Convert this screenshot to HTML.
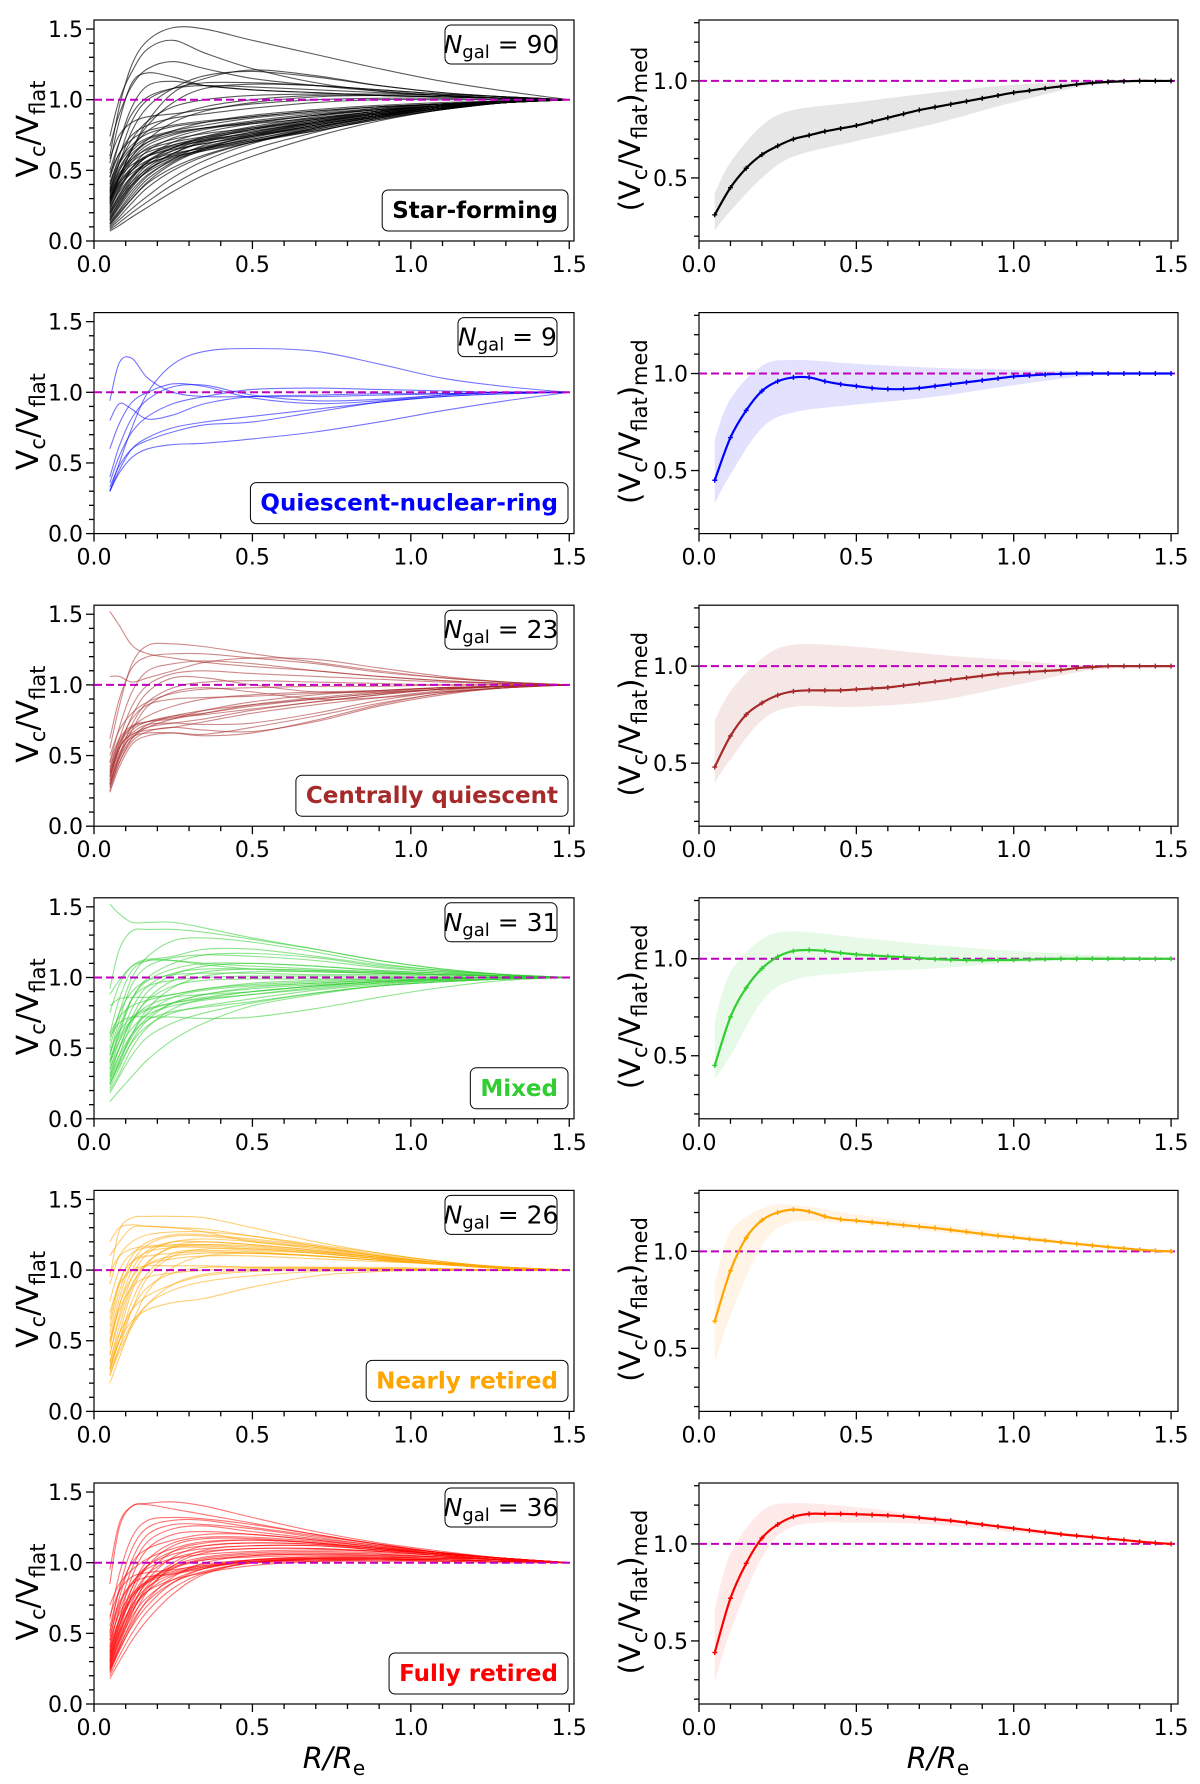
<!DOCTYPE html>
<html><head><meta charset="utf-8">
<style>
html,body{margin:0;padding:0;background:#fff;}
svg text{font-family:"DejaVu Sans","Liberation Sans",sans-serif;}
</style></head>
<body>
<svg id="fig" xmlns="http://www.w3.org/2000/svg" width="1200" height="1779" viewBox="0 0 1200 1779"></svg>
<script>
// Shared radius grids
const curveR = [0.05,0.08,0.12,0.17,0.25,0.35,0.5,0.7,0.9,1.1,1.3,1.5];
const medR = [0.05,0.10,0.15,0.20,0.25,0.30,0.35,0.40,0.45,0.50,0.55,0.60,0.65,0.70,0.75,0.80,0.85,0.90,0.95,1.00,1.05,1.10,1.15,1.20,1.25,1.30,1.35,1.40,1.45,1.50];
const bandR = [0.05,0.1,0.2,0.3,0.5,0.75,1.0,1.25,1.5];
const xTicks = [0.0,0.5,1.0,1.5];
const xTickLabels = ["0.0","0.5","1.0","1.5"];
const leftYTicks = [0.0,0.5,1.0,1.5];
const leftYTickLabels = ["0.0","0.5","1.0","1.5"];
const rightYTicks = [0.5,1.0];
const rightYTickLabels = ["0.5","1.0"];
const classNames = ["Star-forming","Quiescent-nuclear-ring","Centrally quiescent","Mixed","Nearly retired","Fully retired"];
const classColors = ["#000000","#0000ff","#a52a2a","#32cd32","#ffa500","#ff0000"];
const bandColors = ["#c8c8c8","#a0a0ff","#e0b0b0","#b0ecb0","#ffdcaa","#ffb8b8"];
const nGal = [90,9,23,31,26,36];

const curvesSF = [
[0.60,0.95,1.25,1.42,1.51,1.50,1.42,1.32,1.22,1.13,1.06,1],
[0.74,1.0,1.2,1.36,1.42,1.33,1.22,1.12,1.06,1.03,1.01,1],
[0.67,0.9,1.1,1.22,1.27,1.22,1.15,1.10,1.06,1.03,1.01,1],
[0.55,0.85,1.12,1.19,1.16,1.10,1.07,1.05,1.03,1.02,1.01,1],
[0.35,0.55,0.78,0.95,1.08,1.17,1.20,1.16,1.10,1.05,1.02,1],
[0.30,0.45,0.65,0.85,1.05,1.15,1.21,1.17,1.10,1.05,1.02,1],
[0.45,0.7,0.95,1.10,1.13,1.10,1.07,1.05,1.03,1.02,1.01,1],
[0.40,0.6,0.85,1.0,1.08,1.12,1.12,1.10,1.07,1.04,1.02,1],
[0.28,0.45,0.65,0.82,0.98,1.08,1.11,1.10,1.07,1.04,1.02,1],
[0.5,0.7,0.9,1.02,1.08,1.10,1.09,1.07,1.05,1.03,1.01,1],
[0.38,0.55,0.72,0.85,0.95,1.0,1.03,1.04,1.04,1.03,1.01,1],
[0.33,0.5,0.66,0.78,0.88,0.95,1.0,1.03,1.03,1.02,1.01,1],
[0.30,0.45,0.6,0.72,0.84,0.92,0.98,1.02,1.03,1.02,1.01,1],
[0.58,0.75,0.84,0.88,0.9,0.93,0.97,1.0,1.01,1.01,1.0,1],
[0.45,0.62,0.75,0.82,0.87,0.9,0.94,0.98,1.0,1.0,1.0,1],
[0.25,0.38,0.5,0.6,0.7,0.77,0.83,0.89,0.94,0.97,0.99,1],
[0.20,0.32,0.45,0.56,0.66,0.74,0.81,0.88,0.93,0.97,0.99,1],
[0.15,0.25,0.38,0.5,0.62,0.71,0.79,0.86,0.92,0.96,0.99,1],
[0.12,0.2,0.3,0.42,0.55,0.65,0.75,0.84,0.91,0.96,0.99,1],
[0.07,0.11,0.17,0.24,0.35,0.47,0.6,0.74,0.85,0.93,0.98,1],
[0.09,0.15,0.23,0.32,0.45,0.57,0.69,0.8,0.89,0.95,0.99,1],
[0.30,0.42,0.52,0.6,0.66,0.71,0.77,0.84,0.9,0.95,0.98,1],
[0.35,0.48,0.58,0.65,0.7,0.74,0.79,0.85,0.91,0.95,0.98,1],
[0.18,0.3,0.44,0.56,0.64,0.69,0.74,0.81,0.88,0.94,0.98,1],
[0.22,0.36,0.5,0.6,0.68,0.73,0.78,0.84,0.9,0.95,0.98,1],
[0.28,0.44,0.58,0.68,0.75,0.8,0.85,0.9,0.94,0.97,0.99,1],
[0.40,0.55,0.66,0.73,0.78,0.82,0.87,0.91,0.95,0.97,0.99,1],
[0.48,0.62,0.72,0.78,0.82,0.85,0.88,0.92,0.95,0.97,0.99,1],
[0.14,0.24,0.36,0.47,0.57,0.64,0.71,0.79,0.87,0.93,0.98,1],
[0.10,0.17,0.27,0.38,0.5,0.6,0.7,0.8,0.88,0.94,0.98,1],
[0.26,0.4,0.52,0.61,0.67,0.71,0.75,0.82,0.89,0.94,0.98,1],
[0.32,0.46,0.56,0.63,0.68,0.72,0.76,0.83,0.89,0.94,0.98,1],
[0.17,0.27,0.4,0.52,0.62,0.7,0.77,0.85,0.91,0.96,0.99,1],
[0.21,0.33,0.46,0.57,0.66,0.73,0.8,0.87,0.92,0.96,0.99,1],
[0.13,0.22,0.34,0.46,0.58,0.68,0.76,0.84,0.9,0.95,0.99,1],
[0.24,0.35,0.46,0.54,0.61,0.66,0.72,0.8,0.88,0.94,0.98,1],
[0.36,0.5,0.62,0.7,0.76,0.8,0.84,0.89,0.93,0.96,0.99,1],
[0.29,0.41,0.5,0.57,0.62,0.66,0.72,0.81,0.88,0.94,0.98,1],
[0.19,0.29,0.4,0.49,0.58,0.65,0.73,0.82,0.89,0.95,0.98,1],
[0.11,0.19,0.3,0.41,0.52,0.61,0.7,0.79,0.87,0.94,0.98,1],
[0.42,0.57,0.68,0.76,0.81,0.84,0.88,0.92,0.95,0.97,0.99,1],
[0.27,0.39,0.48,0.55,0.6,0.64,0.7,0.78,0.86,0.93,0.98,1],
[0.16,0.28,0.42,0.54,0.64,0.72,0.79,0.86,0.92,0.96,0.99,1],
[0.23,0.37,0.52,0.64,0.73,0.79,0.84,0.89,0.93,0.96,0.99,1],
[0.34,0.45,0.54,0.6,0.65,0.69,0.75,0.83,0.9,0.95,0.98,1],
[0.08,0.13,0.2,0.28,0.4,0.52,0.65,0.77,0.87,0.94,0.98,1],
[0.31,0.47,0.6,0.7,0.78,0.84,0.89,0.93,0.96,0.98,0.99,1],
[0.20,0.31,0.42,0.51,0.59,0.65,0.71,0.78,0.86,0.93,0.98,1],
[0.12,0.21,0.32,0.44,0.56,0.66,0.74,0.82,0.89,0.95,0.98,1],
[0.37,0.52,0.64,0.72,0.77,0.8,0.83,0.87,0.92,0.96,0.99,1],
[0.26,0.42,0.56,0.66,0.72,0.76,0.8,0.86,0.91,0.95,0.98,1],
[0.15,0.26,0.39,0.5,0.6,0.67,0.74,0.82,0.89,0.95,0.98,1]
];
const curvesQNR = [
[0.94,1.21,1.24,1.1,1.0,0.97,0.97,0.97,0.98,0.99,1.0,1],
[0.30,0.5,0.75,1.0,1.2,1.29,1.31,1.29,1.2,1.1,1.04,1],
[0.80,0.92,0.88,0.81,0.84,0.92,0.97,0.98,0.99,0.99,1.0,1],
[0.60,0.78,0.93,1.0,1.06,1.04,0.96,0.92,0.94,0.98,1.0,1],
[0.40,0.62,0.82,0.95,1.04,1.05,0.98,0.94,0.95,0.98,1.0,1],
[0.36,0.55,0.72,0.83,0.92,0.97,1.02,1.03,1.02,1.01,1.0,1],
[0.30,0.45,0.6,0.68,0.75,0.79,0.83,0.88,0.93,0.97,0.99,1],
[0.33,0.48,0.6,0.66,0.72,0.77,0.79,0.86,0.93,0.97,0.99,1],
[0.30,0.43,0.54,0.6,0.63,0.64,0.67,0.72,0.79,0.87,0.94,1]
];
const curvesCQ = [
[1.52,1.42,1.28,1.22,1.19,1.16,1.13,1.10,1.06,1.03,1.01,1],
[0.55,0.85,1.15,1.28,1.29,1.27,1.22,1.16,1.1,1.05,1.02,1],
[0.62,0.9,1.12,1.2,1.22,1.22,1.19,1.15,1.09,1.05,1.02,1],
[1.06,1.06,1.02,1.05,1.1,1.16,1.19,1.18,1.12,1.06,1.02,1],
[0.45,0.7,0.95,1.1,1.15,1.17,1.15,1.1,1.06,1.03,1.01,1],
[0.40,0.62,0.85,1.0,1.08,1.1,1.08,1.06,1.04,1.02,1.01,1],
[0.35,0.55,0.78,0.95,1.05,1.05,1.0,0.95,0.95,0.97,0.99,1],
[0.30,0.5,0.72,0.88,0.98,1.02,1.03,1.02,1.01,1.0,1.0,1],
[0.28,0.48,0.68,0.85,0.95,0.98,0.95,0.9,0.91,0.95,0.98,1],
[0.38,0.58,0.7,0.78,0.85,0.9,0.93,0.95,0.96,0.98,0.99,1],
[0.33,0.55,0.68,0.74,0.78,0.8,0.85,0.9,0.94,0.97,0.99,1],
[0.25,0.45,0.62,0.72,0.78,0.82,0.86,0.9,0.94,0.97,0.99,1],
[0.42,0.6,0.7,0.74,0.77,0.79,0.83,0.88,0.93,0.97,0.99,1],
[0.30,0.5,0.64,0.7,0.73,0.76,0.82,0.88,0.93,0.97,0.99,1],
[0.35,0.55,0.66,0.72,0.73,0.72,0.73,0.8,0.89,0.95,0.98,1],
[0.27,0.45,0.6,0.67,0.7,0.68,0.67,0.74,0.85,0.93,0.98,1],
[0.32,0.52,0.63,0.66,0.66,0.64,0.66,0.75,0.86,0.94,0.98,1],
[0.24,0.42,0.58,0.64,0.66,0.65,0.7,0.78,0.87,0.94,0.98,1],
[0.38,0.56,0.65,0.68,0.7,0.74,0.8,0.86,0.91,0.96,0.99,1],
[0.45,0.62,0.71,0.74,0.76,0.8,0.86,0.91,0.95,0.98,0.99,1],
[0.29,0.48,0.62,0.7,0.76,0.82,0.88,0.93,0.96,0.98,0.99,1],
[0.50,0.68,0.8,0.88,0.94,0.97,0.98,0.99,0.99,1.0,1.0,1],
[0.36,0.58,0.76,0.86,0.9,0.91,0.92,0.94,0.96,0.98,0.99,1]
];
const curvesMixed = [
[1.52,1.45,1.39,1.39,1.39,1.35,1.28,1.2,1.12,1.06,1.02,1],
[0.92,1.2,1.33,1.34,1.34,1.32,1.27,1.2,1.12,1.06,1.02,1],
[0.5,0.75,1.0,1.15,1.26,1.28,1.25,1.18,1.1,1.05,1.02,1],
[0.6,0.85,1.05,1.12,1.15,1.2,1.2,1.15,1.09,1.05,1.02,1],
[0.45,0.7,0.95,1.08,1.14,1.16,1.15,1.12,1.07,1.04,1.02,1],
[0.38,0.6,0.85,1.0,1.1,1.16,1.17,1.14,1.08,1.04,1.01,1],
[0.88,0.98,1.08,1.12,1.12,1.1,1.08,1.06,1.04,1.02,1.01,1],
[0.75,0.95,1.08,1.13,1.12,1.09,1.06,1.04,1.03,1.02,1.01,1],
[0.40,0.62,0.85,0.98,1.06,1.1,1.1,1.08,1.05,1.03,1.01,1],
[0.30,0.5,0.72,0.9,1.02,1.08,1.1,1.08,1.05,1.03,1.01,1],
[0.35,0.55,0.78,0.94,1.03,1.06,1.06,1.05,1.04,1.02,1.01,1],
[0.28,0.45,0.68,0.85,0.98,1.04,1.06,1.05,1.03,1.02,1.01,1],
[0.25,0.4,0.6,0.78,0.93,1.01,1.04,1.04,1.03,1.02,1.01,1],
[0.55,0.75,0.9,0.98,1.02,1.03,1.03,1.02,1.02,1.01,1.0,1],
[0.45,0.65,0.85,0.94,0.98,1.0,1.01,1.01,1.01,1.0,1.0,1],
[0.32,0.5,0.7,0.84,0.94,0.98,0.99,0.99,1.0,1.0,1.0,1],
[0.8,0.85,0.86,0.86,0.88,0.92,0.96,0.98,0.99,1.0,1.0,1],
[0.6,0.72,0.8,0.84,0.88,0.92,0.95,0.97,0.99,1.0,1.0,1],
[0.27,0.42,0.6,0.75,0.86,0.91,0.94,0.96,0.98,0.99,1.0,1],
[0.22,0.36,0.55,0.7,0.82,0.88,0.92,0.95,0.97,0.99,1.0,1],
[0.40,0.55,0.7,0.8,0.86,0.88,0.9,0.94,0.97,0.99,1.0,1],
[0.20,0.32,0.5,0.65,0.78,0.85,0.9,0.94,0.97,0.99,1.0,1],
[0.35,0.5,0.64,0.74,0.8,0.84,0.88,0.93,0.96,0.98,0.99,1],
[0.25,0.38,0.54,0.66,0.75,0.8,0.85,0.91,0.95,0.98,0.99,1],
[0.48,0.62,0.72,0.78,0.82,0.85,0.88,0.92,0.96,0.98,0.99,1],
[0.30,0.45,0.6,0.7,0.76,0.79,0.83,0.89,0.94,0.97,0.99,1],
[0.58,0.68,0.72,0.72,0.72,0.71,0.72,0.78,0.86,0.93,0.98,1],
[0.18,0.3,0.45,0.58,0.68,0.75,0.82,0.89,0.94,0.97,0.99,1],
[0.12,0.2,0.3,0.42,0.56,0.68,0.8,0.88,0.94,0.97,0.99,1],
[0.42,0.58,0.7,0.77,0.82,0.86,0.9,0.94,0.97,0.99,1.0,1],
[0.24,0.4,0.58,0.72,0.82,0.88,0.93,0.96,0.98,0.99,1.0,1]
];
const curvesNR = [
[0.95,1.28,1.37,1.38,1.38,1.37,1.3,1.2,1.12,1.06,1.02,1],
[1.1,1.2,1.3,1.31,1.3,1.27,1.2,1.16,1.1,1.05,1.02,1],
[1.2,1.3,1.32,1.31,1.3,1.29,1.24,1.17,1.1,1.05,1.02,1],
[0.9,1.1,1.2,1.25,1.27,1.27,1.24,1.18,1.12,1.06,1.02,1],
[0.6,0.9,1.1,1.2,1.25,1.25,1.22,1.17,1.11,1.06,1.02,1],
[0.5,0.8,1.05,1.18,1.24,1.24,1.21,1.16,1.1,1.05,1.02,1],
[0.4,0.68,0.95,1.12,1.2,1.22,1.2,1.15,1.1,1.05,1.02,1],
[0.45,0.75,1.0,1.14,1.2,1.2,1.18,1.14,1.09,1.05,1.02,1],
[0.3,0.55,0.85,1.05,1.17,1.2,1.18,1.14,1.09,1.05,1.02,1],
[0.35,0.6,0.88,1.06,1.16,1.18,1.17,1.13,1.09,1.05,1.02,1],
[0.98,1.1,1.15,1.17,1.18,1.18,1.16,1.13,1.09,1.05,1.02,1],
[0.78,1.0,1.12,1.16,1.17,1.17,1.15,1.12,1.08,1.05,1.02,1],
[0.55,0.85,1.05,1.13,1.16,1.16,1.14,1.12,1.08,1.04,1.02,1],
[0.25,0.45,0.72,0.95,1.1,1.15,1.15,1.12,1.08,1.04,1.02,1],
[0.30,0.5,0.78,0.98,1.12,1.14,1.13,1.1,1.07,1.04,1.01,1],
[0.65,0.92,1.06,1.1,1.12,1.13,1.12,1.1,1.07,1.04,1.01,1],
[0.4,0.65,0.9,1.04,1.1,1.12,1.12,1.1,1.07,1.04,1.01,1],
[0.2,0.38,0.62,0.85,1.02,1.1,1.12,1.1,1.07,1.04,1.01,1],
[0.48,0.75,0.95,1.04,1.08,1.1,1.1,1.08,1.06,1.04,1.01,1],
[0.7,0.9,1.0,1.03,1.03,1.03,1.02,1.02,1.02,1.01,1.0,1],
[0.3,0.5,0.72,0.88,0.98,1.02,1.02,1.02,1.01,1.01,1.0,1],
[0.35,0.55,0.72,0.82,0.9,0.96,0.99,1.0,1.0,1.0,1.0,1],
[0.28,0.45,0.62,0.76,0.86,0.92,0.96,0.99,1.0,1.0,1.0,1],
[0.33,0.5,0.64,0.72,0.77,0.8,0.88,0.96,0.99,1.0,1.0,1],
[0.26,0.42,0.6,0.76,0.9,0.97,1.0,1.01,1.01,1.0,1.0,1],
[0.5,0.72,0.88,0.95,0.98,1.0,1.01,1.01,1.01,1.0,1.0,1]
];
const curvesFR = [
[0.95,1.28,1.4,1.42,1.43,1.4,1.32,1.22,1.14,1.08,1.03,1],
[0.85,1.25,1.4,1.41,1.38,1.34,1.28,1.2,1.13,1.07,1.03,1],
[0.6,0.92,1.18,1.3,1.32,1.31,1.27,1.2,1.13,1.07,1.03,1],
[0.5,0.82,1.1,1.25,1.3,1.3,1.25,1.19,1.13,1.07,1.03,1],
[0.45,0.75,1.02,1.2,1.27,1.27,1.24,1.18,1.12,1.07,1.03,1],
[0.40,0.68,0.96,1.15,1.24,1.26,1.22,1.17,1.12,1.07,1.03,1],
[0.35,0.6,0.9,1.1,1.2,1.22,1.2,1.16,1.11,1.07,1.03,1],
[0.55,0.8,1.0,1.1,1.16,1.2,1.2,1.16,1.11,1.06,1.03,1],
[0.32,0.55,0.82,1.02,1.14,1.18,1.18,1.15,1.11,1.06,1.03,1],
[0.30,0.52,0.78,0.98,1.12,1.17,1.17,1.14,1.1,1.06,1.03,1],
[0.7,0.85,0.95,1.03,1.1,1.15,1.16,1.14,1.1,1.06,1.03,1],
[0.28,0.48,0.72,0.92,1.08,1.14,1.16,1.14,1.1,1.06,1.03,1],
[0.38,0.6,0.82,0.98,1.08,1.12,1.14,1.13,1.1,1.06,1.03,1],
[0.26,0.45,0.68,0.88,1.04,1.12,1.14,1.13,1.09,1.06,1.03,1],
[0.42,0.66,0.85,0.98,1.06,1.1,1.12,1.12,1.09,1.06,1.03,1],
[0.25,0.42,0.64,0.84,1.0,1.09,1.12,1.12,1.09,1.06,1.03,1],
[0.33,0.55,0.76,0.92,1.03,1.08,1.1,1.1,1.08,1.05,1.02,1],
[0.24,0.4,0.6,0.8,0.98,1.07,1.1,1.1,1.08,1.05,1.02,1],
[0.48,0.7,0.86,0.96,1.03,1.06,1.08,1.09,1.08,1.05,1.02,1],
[0.3,0.5,0.7,0.86,0.98,1.04,1.07,1.08,1.07,1.05,1.02,1],
[0.27,0.45,0.65,0.82,0.96,1.03,1.06,1.07,1.06,1.04,1.02,1],
[0.22,0.38,0.56,0.74,0.9,1.0,1.05,1.06,1.06,1.04,1.02,1],
[0.36,0.56,0.74,0.87,0.96,1.02,1.04,1.05,1.05,1.04,1.02,1],
[0.23,0.38,0.55,0.7,0.86,0.96,1.02,1.04,1.04,1.03,1.02,1],
[0.20,0.34,0.5,0.66,0.82,0.93,1.0,1.03,1.04,1.03,1.02,1],
[0.4,0.6,0.76,0.86,0.93,0.98,1.02,1.03,1.03,1.02,1.01,1],
[0.29,0.47,0.66,0.8,0.91,0.97,1.01,1.02,1.02,1.02,1.01,1],
[0.18,0.3,0.45,0.6,0.78,0.92,1.0,1.02,1.02,1.02,1.01,1],
[0.52,0.72,0.85,0.9,0.92,0.96,1.01,1.03,1.03,1.02,1.01,1],
[0.31,0.5,0.68,0.8,0.88,0.93,0.98,1.01,1.02,1.02,1.01,1],
[0.62,0.8,0.9,0.93,0.95,0.98,1.01,1.02,1.02,1.02,1.01,1],
[0.24,0.4,0.58,0.73,0.86,0.94,1.0,1.02,1.02,1.01,1.01,1],
[0.34,0.52,0.7,0.83,0.92,0.97,1.0,1.01,1.01,1.01,1.0,1],
[0.45,0.64,0.78,0.87,0.94,0.99,1.02,1.03,1.03,1.02,1.01,1],
[0.37,0.58,0.76,0.88,0.97,1.02,1.05,1.06,1.05,1.04,1.02,1],
[0.26,0.44,0.62,0.76,0.88,0.96,1.02,1.04,1.04,1.03,1.02,1]
];

const medSF = [0.31,0.45,0.55,0.62,0.665,0.70,0.72,0.74,0.755,0.77,0.79,0.81,0.83,0.85,0.865,0.88,0.895,0.91,0.925,0.94,0.95,0.962,0.972,0.982,0.99,0.995,0.998,1.0,1.0,1.0];
const medQNR = [0.45,0.67,0.81,0.91,0.96,0.98,0.98,0.96,0.945,0.935,0.925,0.92,0.92,0.925,0.935,0.945,0.955,0.965,0.975,0.985,0.99,0.995,0.998,1.0,1.0,1.0,1.0,1.0,1.0,1.0];
const medCQ = [0.48,0.64,0.75,0.81,0.85,0.87,0.875,0.875,0.875,0.88,0.885,0.89,0.90,0.91,0.92,0.93,0.94,0.95,0.96,0.965,0.97,0.975,0.98,0.99,0.995,1.0,1.0,1.0,1.0,1.0];
const medMixed = [0.45,0.70,0.85,0.95,1.01,1.04,1.045,1.04,1.03,1.022,1.017,1.012,1.008,1.003,0.998,0.995,0.993,0.992,0.993,0.994,0.996,0.998,1.0,1.0,1.0,1.0,1.0,1.0,1.0,1.0];
const medNR = [0.64,0.90,1.07,1.16,1.20,1.215,1.205,1.18,1.165,1.158,1.15,1.143,1.135,1.127,1.12,1.11,1.10,1.09,1.08,1.072,1.063,1.055,1.046,1.038,1.03,1.022,1.015,1.008,1.003,1.0];
const medFR = [0.44,0.72,0.90,1.03,1.10,1.14,1.155,1.155,1.155,1.153,1.15,1.147,1.142,1.135,1.127,1.12,1.11,1.10,1.09,1.08,1.07,1.06,1.05,1.042,1.035,1.027,1.02,1.012,1.005,1.0];

const bandLoSF = [0.23,0.33,0.50,0.61,0.69,0.78,0.89,0.98,1.0];
const bandHiSF = [0.42,0.58,0.77,0.85,0.89,0.94,0.98,1.0,1.0];
const bandLoQNR = [0.33,0.48,0.72,0.80,0.84,0.88,0.94,0.99,1.0];
const bandHiQNR = [0.66,0.87,1.04,1.07,1.05,1.03,1.02,1.01,1.0];
const bandLoCQ = [0.40,0.52,0.72,0.79,0.79,0.82,0.90,0.98,1.0];
const bandHiCQ = [0.72,0.87,1.04,1.11,1.10,1.06,1.03,1.0,1.0];
const bandLoMixed = [0.38,0.50,0.78,0.89,0.93,0.95,0.98,0.995,1.0];
const bandHiMixed = [0.68,0.93,1.10,1.14,1.11,1.07,1.04,1.02,1.0];
const bandLoNR = [0.42,0.67,1.03,1.15,1.14,1.10,1.06,1.03,1.0];
const bandHiNR = [0.83,1.10,1.22,1.24,1.19,1.14,1.09,1.04,1.0];
const bandLoFR = [0.29,0.55,0.93,1.09,1.11,1.10,1.06,1.03,1.0];
const bandHiFR = [0.66,0.95,1.17,1.21,1.19,1.14,1.09,1.04,1.0];

const allCurves = [curvesSF,curvesQNR,curvesCQ,curvesMixed,curvesNR,curvesFR];
const allMed = [medSF,medQNR,medCQ,medMixed,medNR,medFR];
const allLo = [bandLoSF,bandLoQNR,bandLoCQ,bandLoMixed,bandLoNR,bandLoFR];
const allHi = [bandHiSF,bandHiQNR,bandHiCQ,bandHiMixed,bandHiNR,bandHiFR];

const NS = "http://www.w3.org/2000/svg";
const svg = document.getElementById('fig');
function mk(tag, attrs, parent){
  const e = document.createElementNS(NS, tag);
  for (const k in attrs) e.setAttribute(k, attrs[k]);
  (parent||svg).appendChild(e);
  return e;
}
function smoothPath(pts){
  let d = 'M'+pts[0][0].toFixed(2)+','+pts[0][1].toFixed(2);
  for (let i=0;i<pts.length-1;i++){
    const p0=pts[Math.max(0,i-1)], p1=pts[i], p2=pts[i+1], p3=pts[Math.min(pts.length-1,i+2)];
    const c1x=p1[0]+(p2[0]-p0[0])/6, c1y=p1[1]+(p2[1]-p0[1])/6;
    const c2x=p2[0]-(p3[0]-p1[0])/6, c2y=p2[1]-(p3[1]-p1[1])/6;
    d+=' C'+c1x.toFixed(2)+','+c1y.toFixed(2)+' '+c2x.toFixed(2)+','+c2y.toFixed(2)+' '+p2[0].toFixed(2)+','+p2[1].toFixed(2);
  }
  return d;
}
const ROW = 292.6, TOP = 20, BOT = 241;
const L = {x0:94, x1:574, xmax:1.515, ymin:0, ymax:1.564};
const R = {x0:699, x1:1178, xmax:1.522, ymin:0.175, ymax:1.314};
function xs(ax, v){ return ax.x0 + v/ax.xmax*(ax.x1-ax.x0); }
function ys(ax, oy, v){ return oy+BOT - (v-ax.ymin)/(ax.ymax-ax.ymin)*(BOT-TOP); }

function drawAxes(ax, oy, yTicks, yLabels, yMinorFrom, yMinorTo, g){
  const frame = mk('rect',{x:ax.x0,y:oy+TOP,width:ax.x1-ax.x0,height:BOT-TOP,fill:'none',stroke:'#000','stroke-width':1.2},g);
  
  
  for (let k=0;k<=15;k++){
    const v=k/10, x=xs(ax,v), major=(k%5===0);
    const t=mk('line',{x1:x,x2:x,y1:oy+BOT,y2:oy+BOT+(major?8:5),stroke:'#000','stroke-width':1.3},g);
    
    
  }
  xTicks.forEach((v,i)=>{
    const t=mk('text',{x:xs(ax,v),y:oy+BOT+31,'font-size':22,'text-anchor':'middle'},g);
    t.textContent=xTickLabels[i];
    
    
  });
  for (let k=yMinorFrom;k<=yMinorTo;k++){
    const v=k/10, y=ys(ax,oy,v), major=(k%5===0);
    const t=mk('line',{x1:ax.x0-(major?8:5),x2:ax.x0,y1:y,y2:y,stroke:'#000','stroke-width':1.3},g);
    
    
  }
  yTicks.forEach((v,i)=>{
    const t=mk('text',{x:ax.x0-11,y:ys(ax,oy,v)+8,'font-size':22,'text-anchor':'end'},g);
    t.textContent=yLabels[i];
    
    
  });
  const ref=mk('line',{x1:ax.x0,x2:ax.x1,y1:ys(ax,oy,1),y2:ys(ax,oy,1),stroke:'#bf00bf','stroke-width':2,'stroke-dasharray':'8,4'},g);
  
  
}

for (let r=0;r<6;r++){
  const oy=r*ROW, col=classColors[r];
  const gl=mk('g',{});
  
  
  const clipId='clipL'+r;
  const cp=mk('clipPath',{id:clipId},gl);
  mk('rect',{x:L.x0,y:oy+TOP,width:L.x1-L.x0,height:BOT-TOP},cp);
  const gc=mk('g',{'clip-path':'url(#'+clipId+')'},gl);
  allCurves[r].forEach(c=>{
    const pts=c.map((v,i)=>[xs(L,curveR[i]), ys(L,oy,v)]);
    const p=mk('path',{d:smoothPath(pts),fill:'none',stroke:col,'stroke-width':1.1,'stroke-opacity':(r===0?0.65:0.55)},gc);
    
    
  });
  drawAxes(L,oy,leftYTicks,leftYTickLabels,0,15,gl);
  const yl=mk('text',{x:0,y:0,'font-size':30,'text-anchor':'middle',transform:'translate(38,'+(oy+129)+') rotate(-90)'},gl);
  yl.innerHTML='V<tspan font-size="21" dy="7">c</tspan><tspan dy="-7">/V</tspan><tspan font-size="21" dy="7">flat</tspan>';
  
  
  const nb=mk('g',{},gl);
  
  
  const nw = nGal[r]<10?99:112;
  mk('rect',{x:557-nw,y:oy+TOP+5,width:nw,height:39,rx:6,fill:'#fff',stroke:'#000','stroke-width':1},nb);
  const nt=mk('text',{x:557-nw/2,y:oy+TOP+33,'font-size':25,'text-anchor':'middle'},nb);
  nt.innerHTML='<tspan font-style="italic">N</tspan><tspan font-size="18" dy="5">gal</tspan><tspan dy="-5"> = '+nGal[r]+'</tspan>';
  const lb=mk('g',{},gl);
  
  
  const lt=mk('text',{x:558,y:oy+TOP+198,'font-size':23,'font-weight':'bold','text-anchor':'end',fill:col},lb);
  lt.textContent=classNames[r];
  const bb=lt.getBBox();
  const br=mk('rect',{x:bb.x-10,y:oy+TOP+170,width:bb.width+20,height:41,rx:6,fill:'#fff',stroke:'#000','stroke-width':1});
  lb.insertBefore(br,lt);

  const gr=mk('g',{});
  
  
  const lo=allLo[r], hi=allHi[r];
  const up=hi.map((v,i)=>[xs(R,bandR[i]),ys(R,oy,v)]);
  const dn=lo.map((v,i)=>[xs(R,bandR[i]),ys(R,oy,v)]).reverse();
  let dBand=smoothPath(up);
  dBand+=' L'+dn[0][0].toFixed(2)+','+dn[0][1].toFixed(2)+smoothPath(dn).replace(/^M[^C]*/,' ')+' Z';
  const band=mk('path',{d:dBand,fill:bandColors[r],'fill-opacity':(r===0?0.45:0.3),stroke:'none'},gr);
  
  
  drawAxes(R,oy,rightYTicks,rightYTickLabels,2,13,gr);
  const med=allMed[r];
  const mp=med.map((v,i)=>[xs(R,medR[i]),ys(R,oy,v)]);
  const ml=mk('path',{d:smoothPath(mp),fill:'none',stroke:col,'stroke-width':2.2},gr);
  
  
  mp.forEach(p=>{
    const m=mk('path',{d:'M'+(p[0]-2.5)+','+p[1]+' h5 M'+p[0]+','+(p[1]-2.5)+' v5',stroke:col,'stroke-width':1.4},gr);
    
    
  });
  const yr=mk('text',{x:0,y:0,'font-size':29,'text-anchor':'middle',transform:'translate(640,'+(oy+129)+') rotate(-90)'},gr);
  yr.innerHTML='(V<tspan font-size="21" dy="7">c</tspan><tspan dy="-7">/V</tspan><tspan font-size="21" dy="7">flat</tspan><tspan dy="-7">)</tspan><tspan font-size="21" dy="7">med</tspan>';
  
  
}
[[334,'x-axis-title-left'],[938,'x-axis-title-right']].forEach(a=>{
  const t=mk('text',{x:a[0],y:1768,'font-size':29,'text-anchor':'middle','font-style':'italic'});
  t.innerHTML='R/R<tspan font-size="20" dy="7" font-style="normal">e</tspan>';
  
  
});
</script>
</body></html>
